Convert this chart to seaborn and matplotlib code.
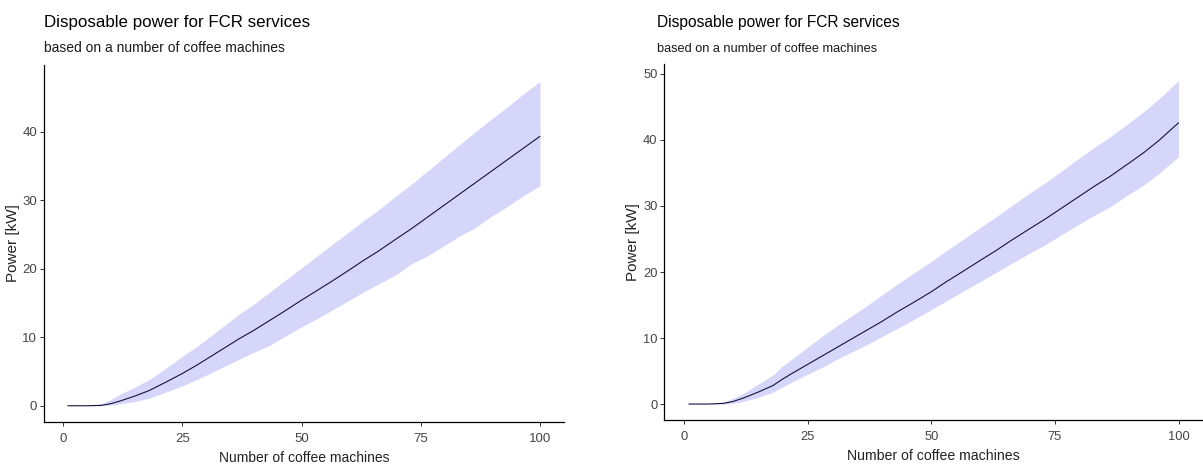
import matplotlib
matplotlib.use("Agg")
import matplotlib.pyplot as plt
import seaborn as sns
import pandas as pd

# ---- data ----
machines = [1, 5, 8, 10, 12, 15, 18, 20, 22, 25, 28, 31, 34, 37, 40, 43, 46, 50,
            53, 56, 60, 63, 66, 70, 73, 76, 80, 83, 86, 90, 93, 96, 100]

left_mean = [0, 0, 0.05, 0.3, 0.7, 1.4, 2.2, 2.9, 3.6, 4.7, 5.9, 7.2, 8.5, 9.8, 11.0,
             12.3, 13.6, 15.4, 16.7, 18.0, 19.8, 21.2, 22.5, 24.4, 25.8, 27.3, 29.3,
             30.8, 32.3, 34.3, 35.8, 37.3, 39.3]
left_lower = [0, 0, 0.0, 0.1, 0.3, 0.6, 1.1, 1.6, 2.1, 2.9, 3.8, 4.8, 5.8, 6.8, 7.8,
              8.7, 9.9, 11.5, 12.6, 13.8, 15.4, 16.6, 17.7, 19.2, 20.7, 21.7, 23.4,
              24.7, 25.8, 27.7, 29.0, 30.4, 32.1]
left_upper = [0, 0, 0.3, 0.9, 1.7, 2.7, 3.8, 4.7, 5.7, 7.2, 8.6, 10.2, 11.8, 13.4, 14.8,
              16.4, 18.0, 20.1, 21.7, 23.3, 25.4, 27.0, 28.5, 30.7, 32.3, 34.0, 36.3,
              38.0, 39.7, 41.9, 43.5, 45.2, 47.3]

right_mean = [0, 0, 0.1, 0.4, 0.9, 1.8, 2.8, 3.8, 4.7, 6.0, 7.3, 8.6, 9.9, 11.2, 12.5,
              13.9, 15.2, 17.0, 18.5, 19.9, 21.8, 23.2, 24.7, 26.6, 28.0, 29.5, 31.5,
              33.0, 34.4, 36.5, 38.1, 39.9, 42.6]
right_lower = [0, 0, 0.0, 0.1, 0.4, 1.0, 1.8, 2.6, 3.4, 4.5, 5.6, 6.8, 7.9, 9.0, 10.2,
               11.4, 12.6, 14.3, 15.6, 16.9, 18.6, 19.9, 21.2, 22.9, 24.1, 25.5, 27.3,
               28.6, 29.8, 31.8, 33.2, 34.9, 37.5]
right_upper = [0, 0, 0.3, 0.9, 1.6, 3.0, 4.4, 5.8, 6.9, 8.6, 10.3, 11.9, 13.4, 14.9, 16.5,
               18.1, 19.6, 21.6, 23.2, 24.7, 26.8, 28.3, 29.9, 32.0, 33.5, 35.1, 37.3,
               38.9, 40.4, 42.6, 44.3, 46.2, 49.0]

left_yticks = [0, 10, 20, 30, 40]
right_yticks = [0, 10, 20, 30, 40, 50]
xticks = [0, 25, 50, 75, 100]

title = "Disposable power for FCR services"
subtitle = "based on a number of coffee machines"
xlabel = "Number of coffee machines"
ylabel = "Power [kW]"

# ---- style ----
sns.set_style("ticks")
plt.rcParams['font.family'] = ['Liberation Sans', 'DejaVu Sans']

W, H = 1203, 470
fig = plt.figure(figsize=(W / 100, H / 100), dpi=100)

band_color = "#d6d6fa"
line_color = "#14143c"
tick_color = "#444444"


def px_axes(l, t, r, b):
    return fig.add_axes([l / W, 1 - b / H, (r - l) / W, (b - t) / H])


panels = [
    dict(box=(44.2, 65, 563.6, 422), mean=left_mean, lo=left_lower, up=left_upper,
         ylim=(-2.37, 49.7), yticks=left_yticks, tx=44, tsize=12.2, ssize=10.0,
         ticksize=9.5, xlsize=10, ylsize=11),
    dict(box=(664.4, 64.4, 1203, 420.2), mean=right_mean, lo=right_lower, up=right_upper,
         ylim=(-2.45, 51.45), yticks=right_yticks, tx=657, tsize=11.2, ssize=9.2,
         ticksize=9.3, xlsize=10.2, ylsize=11),
]

for p in panels:
    ax = px_axes(*p["box"])
    df = pd.DataFrame({"machines": machines, "mean": p["mean"],
                       "lower": p["lo"], "upper": p["up"]})
    ax.fill_between(df["machines"], df["lower"], df["upper"],
                    color=band_color, linewidth=0, zorder=1)
    sns.lineplot(data=df, x="machines", y="mean", ax=ax, color=line_color,
                 linewidth=0.8, zorder=2)
    ax.set_xlim(-3.95, 104.95)
    ax.set_ylim(*p["ylim"])
    ax.set_xticks(xticks)
    ax.set_yticks(p["yticks"])
    sns.despine(ax=ax)
    for s in ("left", "bottom"):
        ax.spines[s].set_linewidth(0.9)
        ax.spines[s].set_color("black")
    ax.tick_params(axis="both", length=3, width=0.7, color="#333333",
                   labelcolor=tick_color, labelsize=p["ticksize"])
    ax.tick_params(axis="x", pad=5)
    ax.tick_params(axis="y", pad=2)
    ax.set_xlabel(xlabel, fontsize=p["xlsize"], color="#222222", labelpad=4)
    ax.set_ylabel(ylabel, fontsize=p["ylsize"], color="#222222", labelpad=2)
    fig.text(p["tx"] / W, 1 - 27.3 / H, title, fontsize=p["tsize"],
             color="black", ha="left", va="baseline")
    fig.text(p["tx"] / W, 1 - 52.3 / H, subtitle, fontsize=p["ssize"],
             color="#1a1a1a", ha="left", va="baseline")

fig.savefig("out.png", dpi=100)
